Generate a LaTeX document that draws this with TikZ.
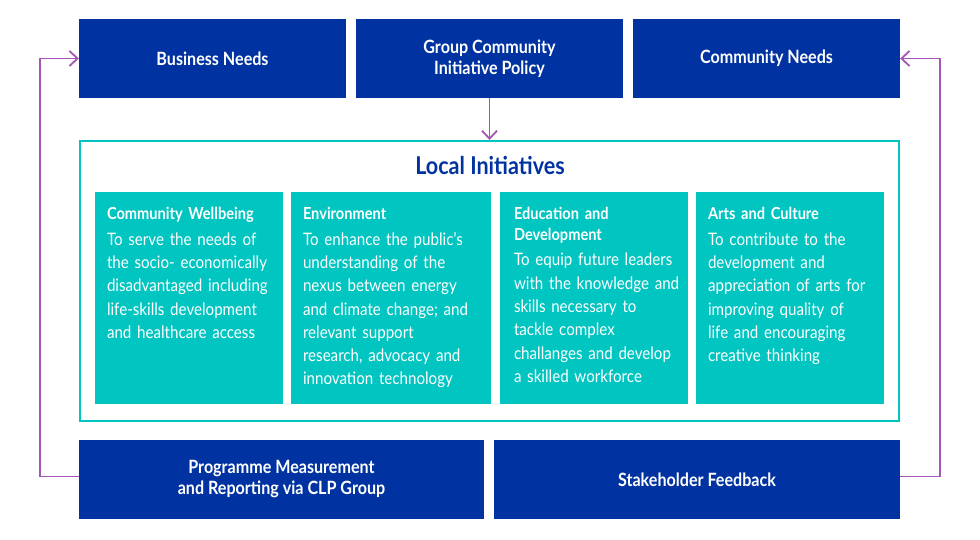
\documentclass[tikz,border=0pt]{standalone}
\usepackage{fontspec}
\setmainfont[FakeStretch=0.88]{Lato}
\usetikzlibrary{arrows.meta}
\definecolor{navy}{HTML}{0033A1}
\definecolor{tealc}{HTML}{00C5C1}
\definecolor{purp}{HTML}{A455B6}
\tikzset{
  navybox/.style={fill=navy, draw=none, inner sep=0, minimum height=79, text=white,
    align=center, font=\bfseries\fontsize{18.3}{21}\selectfont},
  tealbox/.style={fill=tealc, draw=none, inner sep=0, minimum height=212},
  txt/.style={text=white, align=left, inner sep=0, text width=185, anchor=north west,
    font=\fontsize{17.2}{23.3}\selectfont},
  flow/.style={draw=purp, line width=1.8pt, -{Straight Barb[length=8pt,width=15pt]}}
}
\newcommand\hd[1]{{\bfseries\fontsize{16.6}{20.7}\selectfont #1\par}\vspace{2.5pt}}
\begin{document}
\begin{tikzpicture}[x=1pt,y=-1pt]
\useasboundingbox[fill=white] (0,0) rectangle (980,540);
% top boxes
\node[navybox, minimum width=267] (biz) at (212.5,58.5) {Business Needs};
\node[navybox, minimum width=267] (grp) at (489.5,58.5) {Group Community\\Initiative Policy};
\node[navybox, minimum width=267] (comm) at (766.5,58.5) {Community Needs};
% local initiatives frame
\node[draw=tealc, line width=2pt, inner sep=0, minimum width=819, minimum height=280] (local) at (489.5,281) {};
\node[text=navy, font=\bfseries\fontsize{24.5}{28}\selectfont, inner sep=0] (title) at (490,165) {Local Initiatives};
% teal boxes
\node[tealbox, minimum width=188] (b1) at (189,298) {};
\node[tealbox, minimum width=200] (b2) at (391,298) {};
\node[tealbox, minimum width=188] (b3) at (594,298) {};
\node[tealbox, minimum width=188] (b4) at (790,298) {};
\node[txt] (t1) at ([xshift=12pt,yshift=-15pt]b1.north west)
  {\hd{Community Wellbeing}To serve the needs of\newline the socio- economically\newline disadvantaged including\newline life-skills development\newline and healthcare access};
\node[txt] (t2) at ([xshift=12pt,yshift=-15pt]b2.north west)
  {\hd{Environment}To enhance the public’s\newline understanding of the\newline nexus between energy\newline and climate change; and\newline relevant support\newline research, advocacy and\newline innovation technology};
\node[txt] (t3) at ([xshift=14pt,yshift=-15pt]b3.north west)
  {\hd{Education and\newline Development}To equip future leaders\newline with the knowledge and\newline skills necessary to\newline tackle complex\newline challanges and develop\newline a skilled workforce};
\node[txt] (t4) at ([xshift=12pt,yshift=-15pt]b4.north west)
  {\hd{Arts and Culture}To contribute to the\newline development and\newline appreciation of arts for\newline improving quality of\newline life and encouraging\newline creative thinking};
% bottom boxes
\node[navybox, minimum width=405] (prog) at (281.5,479.5) {Programme Measurement\\and Reporting via CLP Group};
\node[navybox, minimum width=406] (stake) at (697,479.5) {Stakeholder Feedback};
% connectors
\draw[flow] (grp.south) -- (local.north);
\draw[flow] ([yshift=3pt]prog.west) -- ++(-39,0) |- (biz.west);
\draw[flow] ([yshift=3pt]stake.east) -- ++(40,0) |- (comm.east);
\end{tikzpicture}
\end{document}
